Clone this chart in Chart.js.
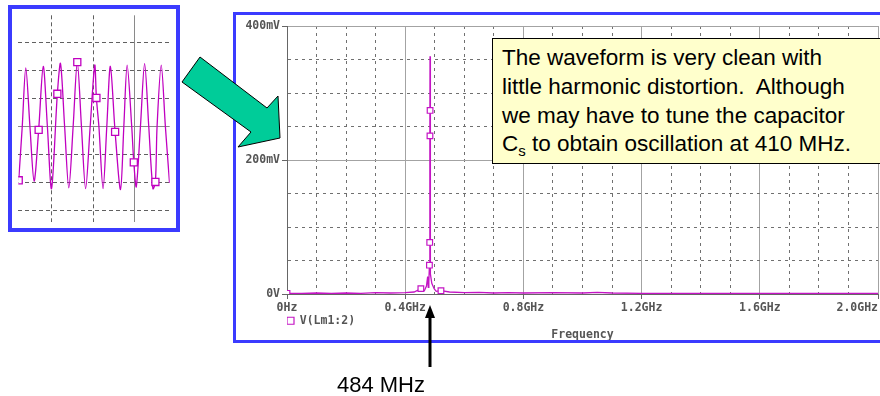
<!DOCTYPE html>
<html>
<head>
<meta charset="utf-8">
<script src="https://cdn.jsdelivr.net/npm/chart.js@4.4.1/dist/chart.umd.min.js"></script>
<style>
  html, body { margin: 0; padding: 0; width: 880px; height: 396px; overflow: hidden; background: #fff; }
  .box { position: absolute; border: 3px solid #3b3bff; background: #fff; }
  #insetBox { left: 8px; top: 5px; width: 164px; height: 219px; border-width: 4px; }
  #mainBox { left: 233px; top: 12px; width: 660px; height: 325px; }
  canvas { display: block; }
  #note {
    position: absolute; left: 492px; top: 38px; width: 420px; height: 126px;
    box-sizing: border-box; background: #ffffcc; border: 1px solid #000;
    padding: 5px 0 0 9px; color: #000; white-space: nowrap;
    font: 22.5px "Liberation Sans", Arial, sans-serif; line-height: 28.8px;
  }
  #note sub { font-size: 15px; line-height: 0; vertical-align: -5px; }
  svg { position: absolute; left: 0; top: 0; pointer-events: none; }
</style>
</head>
<body>
<div class="box" id="insetBox"><canvas id="trace" width="164" height="219"></canvas></div>
<div class="box" id="mainBox"><canvas id="spectrum" width="660" height="325"></canvas></div>
<div id="note">
  The waveform is very clean with<br>
  little harmonic distortion.&nbsp; Although<br>
  we may have to tune the capacitor<br>
  C<sub>s</sub> to obtain oscillation at 410 MHz.
</div>
<svg width="880" height="396">
  <polygon points="200,57 267,108 278,96 280,138 238,147 251,132 182,82"
           fill="#00cc99" stroke="#000" stroke-width="1"/>
  <line x1="430" y1="367" x2="430" y2="316" stroke="#000" stroke-width="3"/>
  <polygon points="430,305 425,318 435,318" fill="#000"/>
  <text x="425" y="392" text-anchor="end" font-family="Liberation Sans, Arial, sans-serif" font-size="22">484 MHz</text>
</svg>

<script>
// ---- spectrum (frequency in GHz, amplitude in mV) ----
const freqGHz = [0, 0.05, 0.10, 0.15, 0.20, 0.25, 0.30, 0.35, 0.40, 0.43, 0.453, 0.465, 0.472, 0.476, 0.478,
                 0.480, 0.482, 0.483, 0.4835, 0.4838, 0.484, 0.4842, 0.4845, 0.487, 0.490, 0.498, 0.505, 0.521,
                 0.55, 0.60, 0.65, 0.70, 0.75, 0.80, 0.90, 1.00, 1.05, 1.10, 1.20, 1.30, 1.40, 1.50, 1.60, 1.70,
                 1.80, 1.90, 2.00];
const ampMV   = [1, 1, 1.5, 1, 1.5, 1, 2, 1.5, 2, 3, 8, 5, 12, 26, 10,
                 18, 43, 77, 113, 236, 355, 274, 60, 30, 16, 8, 4, 5,
                 3, 2, 2.5, 1.5, 2, 1.5, 2, 1.5, 2.5, 1.5, 1, 1, 1, 1, 1, 1,
                 1, 1, 1];
const markedGHz = [0, 0.453, 0.482, 0.483, 0.4838, 0.4842, 0.521];
const xLabelGHz = [0, 0.4, 0.8, 1.2, 1.6, 2.0];
const yLabelMV = [0, 200, 400];
const seriesName = 'V(Lm1:2)';
const xTitle = 'Frequency';

// ---- time-domain inset (grid divisions) ----
const tDiv = [-0.79, -0.705, -0.62, -0.52, -0.42, -0.31, -0.2, -0.1, 0.0, 0.14, 0.216, 0.315, 0.415, 0.52, 0.62,
              0.72, 0.82, 0.93, 1.04, 1.08, 1.14, 1.24, 1.33, 1.416, 1.53, 1.66, 1.74, 1.82, 1.93, 1.98, 2.04,
              2.14, 2.24, 2.34, 2.44, 2.5, 2.54, 2.64, 2.74, 2.84];
const vDiv = [-1.92, 0, 2.09, 0, -1.95, -0.12, 2.15, 0, -2.22, 1.17, 2.25, 0, -2.19, 0, 2.3,
              0, -2.22, 0, 2.19, 1.02, 0, -2.22, 0, 2.15, -0.19, -2.25, 0, 2.19, 0, -1.28, -2.15,
              0, 2.25, 0, -2.22, -1.98, 0, 2.19, 0, -2.02];
const tMarked = [-0.79, -0.31, 0.14, 0.62, 1.08, 1.53, 1.98, 2.5];
const insetXGrid = [0, 1, 2];
const insetYGrid = [-3, -2, -1, 0, 1, 2, 3];

const near = (a, b) => Math.abs(a - b) < 1e-6;
const monoFont = { family: 'DejaVu Sans Mono', size: 11.5, weight: 'bold' };
const labelGray = '#555';
const magenta = '#c414c4';

const majorX = c => c.tick && xLabelGHz.some(t => near(t, c.tick.value));
const majorY = c => c.tick && yLabelMV.some(t => near(t, c.tick.value));

// PSpice puts the last x label flush with the right edge of the plot
const xLabel = v => {
  if (near(v, 0)) return '0Hz';
  const s = v.toFixed(1) + 'GHz';
  return near(v, xLabelGHz[xLabelGHz.length - 1]) ? s + ' '.repeat(s.length) : s;
};

new Chart(document.getElementById('spectrum'), {
  type: 'line',
  data: {
    datasets: [{
      label: seriesName,
      data: freqGHz.map((f, i) => ({ x: f, y: ampMV[i] })),
      borderColor: magenta,
      borderWidth: 1.3,
      tension: 0,
      pointStyle: 'rect',
      pointRadius: c => (c.raw && markedGHz.some(m => near(m, c.raw.x))) ? 4 : 0,
      pointBackgroundColor: '#fff',
      pointBorderColor: magenta,
      pointBorderWidth: 1.2
    }]
  },
  options: {
    responsive: false,
    animation: false,
    devicePixelRatio: 1,
    layout: { autoPadding: false, padding: { top: 11, left: 0, right: 18, bottom: 0 } },
    plugins: {
      tooltip: { enabled: false },
      legend: {
        position: 'bottom',
        align: 'start',
        fullSize: false,
        labels: { usePointStyle: true, boxWidth: 7, boxHeight: 7, padding: 0, color: labelGray, font: monoFont }
      },
      title: {
        display: true,
        text: xTitle,
        position: 'bottom',
        fullSize: false,
        // legend box keeps 10px of empty space below it; pull the title up into it
        padding: { top: -8.4, bottom: -1.9 },
        color: labelGray,
        font: monoFont
      }
    },
    scales: {
      x: {
        type: 'linear',
        min: 0,
        max: 2.0,
        afterFit: s => { s.height = 21; s.paddingLeft = 0; s.paddingRight = 0 },
        ticks: {
          stepSize: 0.1,
          autoSkip: false,
          maxRotation: 0,
          padding: 2,
          color: labelGray,
          font: monoFont,
          callback: v => xLabelGHz.some(t => near(t, v)) ? xLabel(v) : ''
        },
        grid: {
          color: c => majorX(c) ? '#a3a3a3' : '#707070',
          lineWidth: 1,
          tickLength: 5,
          tickColor: c => majorX(c) ? '#666' : 'rgba(0,0,0,0)'
        },
        border: { color: '#666', dash: c => majorX(c) ? [] : [3, 4] }
      },
      y: {
        min: 0,
        max: 400,
        afterFit: s => { s.width = 51 },
        ticks: {
          stepSize: 50,
          padding: 2,
          color: labelGray,
          font: monoFont,
          callback: v => near(v, 0) ? '0V' : (yLabelMV.some(t => near(t, v)) ? v + 'mV' : '')
        },
        grid: {
          color: c => majorY(c) ? '#a3a3a3' : '#707070',
          lineWidth: 1,
          tickLength: 5,
          tickColor: c => majorY(c) ? '#666' : 'rgba(0,0,0,0)'
        },
        border: { color: '#666', dash: c => majorY(c) ? [] : [3, 4] }
      }
    }
  }
});

new Chart(document.getElementById('trace'), {
  type: 'line',
  data: {
    datasets: [{
      data: tDiv.map((t, i) => ({ x: t, y: vDiv[i] })),
      borderColor: '#c000c0',
      borderWidth: 1.3,
      tension: 0.3,
      pointStyle: 'rect',
      pointRadius: c => (c.raw && tMarked.some(m => near(m, c.raw.x))) ? 5 : 0,
      pointBackgroundColor: '#fff',
      pointBorderColor: '#c000c0',
      pointBorderWidth: 1.3
    }]
  },
  options: {
    responsive: false,
    animation: false,
    devicePixelRatio: 1,
    layout: { padding: 0 },
    plugins: { legend: { display: false }, tooltip: { enabled: false } },
    scales: {
      x: {
        type: 'linear',
        min: -0.8,
        max: 2.844,
        afterBuildTicks: s => { s.ticks = insetXGrid.map(v => ({ value: v })) },
        ticks: { display: false },
        grid: { drawTicks: false, color: c => (c.tick && c.tick.value === 2) ? '#8a8a8a' : '#606060' },
        border: { display: false, dash: c => (c.tick && c.tick.value === 2) ? [] : [4, 3] }
      },
      y: {
        min: -3.4,
        max: 3.973,
        afterBuildTicks: s => { s.ticks = insetYGrid.map(v => ({ value: v })) },
        ticks: { display: false },
        grid: { drawTicks: false, color: c => (c.tick && c.tick.value === 0) ? '#8a8a8a' : '#606060' },
        border: { display: false, dash: c => (c.tick && c.tick.value === 0) ? [] : [4, 3] }
      }
    }
  }
});
</script>
</body>
</html>
